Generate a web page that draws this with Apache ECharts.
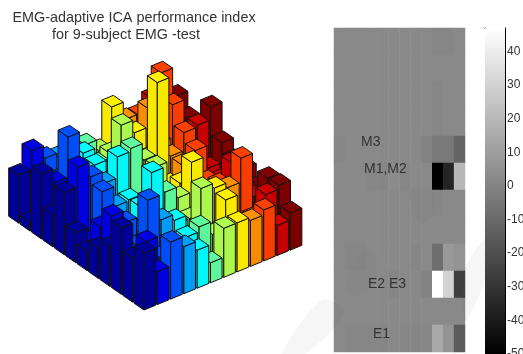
<!DOCTYPE html>
<html><head><meta charset="utf-8">
<style>html,body{margin:0;padding:0;background:#fff}#c{width:523px;height:354px}</style>
<script src="https://cdn.jsdelivr.net/npm/echarts@6/dist/echarts.min.js"></script>
</head><body><div id="c"></div>
<script>
// 3D bars: one list per colour series, front row first
const bars0  = [57,44,66,39,30,19,30,62,32,65,9,48];
const bars1  = [33,55,20,25,57,38,15,82,25,51,30,67];
const bars2  = [57,34,83,30,45,35,60,67,40,91,40,54];
const bars3  = [47,30,58,30,30,30,40,55,45,45,40,50];
const bars4  = [38,43,52,40,84,42,41,76,35,52,56,51];
const bars5  = [20,48,30,35,59,30,30,79,40,40,40,51];
const bars6  = [49,35,73,35,48,35,63,62,45,81,45,40];
const bars7  = [49,64,68,30,78,49,40,134,50,68,50,78];
const bars8  = [46,30,63,30,35,40,54,55,60,87,50,60];
const bars9  = [51,35,87,40,45,40,63,73,93,117,70,59];
const bars10 = [30,53,43,45,61,36,40,75,60,60,70,70];
const bars11 = [37,57,56,39,50,50,60,88,60,61,75,65];
const barSeries = [bars0,bars1,bars2,bars3,bars4,bars5,bars6,bars7,bars8,bars9,bars10,bars11];
const barColors = ['#00009c','#0000e6','#0050ff','#00a0ff','#00ffff','#60ffa0','#b0ff50','#fff000','#ff9000','#ff4000','#cc0000','#800000'];

// Grey map: rows top to bottom, columns left to right
const map01 = [2,2,2,2,2,2,2,2,2,1,1,2];
const map02 = [2,2,2,2,2,2,2,2,2,2,2,2];
const map03 = [2,2,2,2,2,2,2,2,2,1,2,2];
const map04 = [2,2,2,2,2,2,2,2,2,1,2,2];
const map05 = [1,2,2,2,2,2,2,2,0,-4,-4,-12];
const map06 = [2,2,2,1,1,3,1,2,2,-50,-36,20];
const map07 = [2,2,2,2,2,2,2,2,2,1,2,2];
const map08 = [2,2,2,2,2,2,2,2,2,2,2,2];
const map09 = [2,1,1,2,2,2,2,1,2,-8,8,6];
const map10 = [2,2,2,2,2,1,2,2,0,47,30,-26];
const map11 = [2,2,2,2,2,2,2,2,2,2,2,2];
const map12 = [2,1,1,1,1,2,1,1,1,14,6,-15];
const mapRows = [map01,map02,map03,map04,map05,map06,map07,map08,map09,map10,map11,map12];

const colorbarMin = -50, colorbarMax = 47;
const colorbarTicks = [-50,-40,-30,-20,-10,0,10,20,30,40];

const titleLines = ['EMG-adaptive ICA performance index','for 9-subject EMG -test'];
const mapLabels = [['M3',361,143],['M1,M2',364,170],['E2 E3',368,285],['E1',373,335]];

// view of the 3D bars: plane coordinates per series step, per row step
const STEP_S = [13.3,5.45], STEP_R = [-11.4,7.9], BAR_W = 0.87;
function project(s,r,z){ return [s*STEP_S[0]+r*STEP_R[0], s*STEP_S[1]+r*STEP_R[1]+z]; }

const barData = [];
for (let r=11;r>=0;r--) for (let s=11;s>=0;s--) barData.push([s,r,barSeries[s][r]]);

function shade(hex,f){
  const c=echarts.color.parse(hex);
  return 'rgb('+[0,1,2].map(i=>Math.min(255,Math.round(c[i]*f))).join(',')+')';
}
function renderBar(params,api){
  const s=api.value(0), r=api.value(1), h=api.value(2), w=BAR_W, col=barColors[s];
  const pt=(a,b,z)=>api.coord(project(a,b,z));
  const poly=(pts,fill)=>({type:'polygon',shape:{points:pts},
    style:{fill:fill,stroke:'#111',lineWidth:1,lineJoin:'round'}});
  return {type:'group',children:[
    poly([pt(s,r,0),pt(s,r+w,0),pt(s,r+w,h),pt(s,r,h)],shade(col,0.97)),
    poly([pt(s,r,0),pt(s+w,r,0),pt(s+w,r,h),pt(s,r,h)],shade(col,0.97)),
    poly([pt(s,r,h),pt(s+w,r,h),pt(s+w,r+w,h),pt(s,r+w,h)],col)
  ]};
}
const heatData=[];
mapRows.forEach((row,y)=>row.forEach((v,x)=>heatData.push([x,y,v])));

const band=(pts,alpha)=>({type:'polygon',silent:true,z:50,shape:{points:pts,smooth:0.3},style:{fill:'rgba(110,110,110,'+alpha+')'}});

const chart=echarts.init(document.getElementById('c'),null,{renderer:'canvas'});
const TXT={fontFamily:'Liberation Sans',fontWeight:'normal',color:'#333'};
chart.setOption({
  animation:false,
  backgroundColor:'#fff',
  title:[
    {text:titleLines[0],left:134,top:11,textAlign:'center',padding:0,textStyle:{...TXT,fontSize:14.4}},
    {text:titleLines[1],left:126,top:28,textAlign:'center',padding:0,textStyle:{...TXT,fontSize:14.4}},
  ].concat(mapLabels.map(l=>({text:l[0],left:l[1],top:l[2]-8,padding:0,z:60,textStyle:{...TXT,fontSize:14}}))),
  graphic:[
    band([[282,354],[305,354],[345,312],[322,300]],0.06),
    band([[345,292],[368,292],[378,262],[365,248]],0.08),
    band([[465,320],[485,280],[485,240],[465,270]],0.06),
    band([[420,224],[432,215],[432,190],[410,190]],0.06)
  ],
  grid:[
    {left:0,top:0,width:523,height:354,show:false,outerBoundsMode:'none'},
    {left:334,top:28,width:131,height:324,show:false,outerBoundsMode:'none'},
    {left:485,top:28,width:20,height:326,show:false,outerBoundsMode:'none'}
  ],
  xAxis:[
    {gridIndex:0,type:'value',min:-144,max:379,show:false},
    {gridIndex:1,type:'category',data:[0,1,2,3,4,5,6,7,8,9,10,11],show:false},
    {gridIndex:2,type:'value',min:0,max:1,axisLabel:{show:false},axisTick:{show:false},splitLine:{show:false},
     axisLine:{show:true,onZero:false,lineStyle:{color:'#000',width:1}},position:'top'},
    {gridIndex:2,type:'value',min:0,max:1,axisLabel:{show:false},axisTick:{show:false},splitLine:{show:false},
     axisLine:{show:true,onZero:false,lineStyle:{color:'#000',width:1}},position:'bottom'}
  ],
  yAxis:[
    {gridIndex:0,type:'value',min:-44,max:310,show:false},
    {gridIndex:1,type:'category',inverse:true,data:[0,1,2,3,4,5,6,7,8,9,10,11],show:false},
    {gridIndex:2,type:'value',min:colorbarMin,max:colorbarMax,position:'right',splitLine:{show:false},
     axisLine:{show:true,onZero:false,lineStyle:{color:'#000',width:1}},
     axisTick:{show:true,inside:true,length:5,lineStyle:{color:'#000'},customValues:colorbarTicks},
     axisLabel:{show:true,margin:2,customValues:colorbarTicks,showMinLabel:true,showMaxLabel:true,
       fontFamily:'Liberation Sans',fontSize:12,color:'#333',formatter:v=>String(v)}},
    {gridIndex:2,type:'value',min:colorbarMin,max:colorbarMax,position:'left',splitLine:{show:false},
     axisLine:{show:true,onZero:false,lineStyle:{color:'#000',width:1}},
     axisTick:{show:true,inside:true,length:3,lineStyle:{color:'#000'},customValues:colorbarTicks},
     axisLabel:{show:false}}
  ],
  visualMap:{show:false,seriesIndex:1,min:colorbarMin,max:colorbarMax,dimension:2,inRange:{color:['#000000','#ffffff']}},
  series:[
    {type:'custom',xAxisIndex:0,yAxisIndex:0,renderItem:renderBar,data:barData,clip:false,silent:true,
     encode:{x:0,y:1}},
    {type:'heatmap',xAxisIndex:1,yAxisIndex:1,data:heatData,silent:true,itemStyle:{borderWidth:0},progressive:0},
    {type:'custom',xAxisIndex:2,yAxisIndex:2,silent:true,z:1,clip:false,data:[[0,colorbarMin,1,colorbarMax]],
     encode:{x:[0,2],y:[1,3]},
     renderItem(p,api){
       const a=api.coord([api.value(0),api.value(3)]), b=api.coord([api.value(2),api.value(1)]);
       return {type:'rect',shape:{x:a[0],y:a[1],width:b[0]-a[0],height:b[1]-a[1]},
         style:{fill:new echarts.graphic.LinearGradient(0,0,0,1,[{offset:0,color:'#fff'},{offset:1,color:'#000'}])}};
     }}
  ]
});
</script></body></html>
